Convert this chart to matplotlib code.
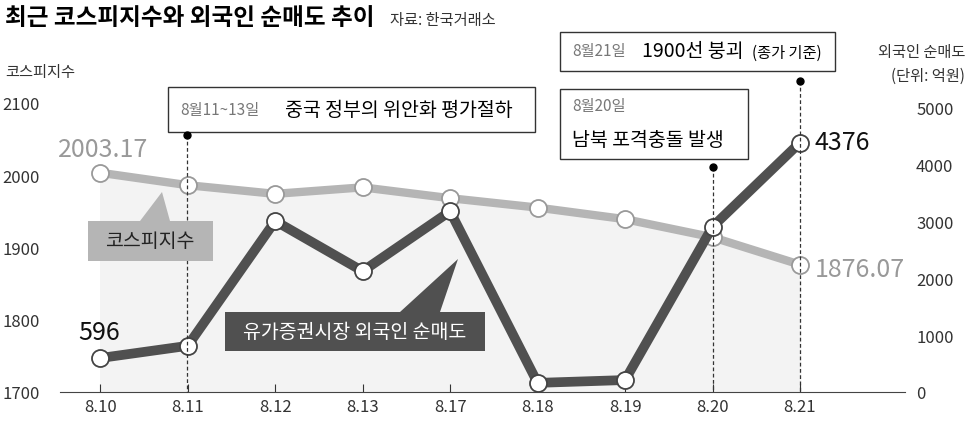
import matplotlib
matplotlib.use("Agg")
import matplotlib.pyplot as plt
from matplotlib.patches import Polygon

plt.rcParams["font.family"] = "Noto Sans CJK KR"

dates = ["8.10", "8.11", "8.12", "8.13", "8.17", "8.18", "8.19", "8.20", "8.21"]
kospi = [2003.17, 1986, 1974, 1983, 1968, 1955, 1939, 1914, 1876.07]
foreign = [596, 810, 3000, 2120, 3170, 160, 210, 2900, 4376]
left_ticks = [1700, 1800, 1900, 2000, 2100]
right_ticks = [0, 1000, 2000, 3000, 4000, 5000]

W, H = 970, 435
fig = plt.figure(figsize=(W / 100, H / 100), dpi=100)
ax = fig.add_axes([60 / W, (H - 393) / H, 845 / W, 303 / H])
ax2 = ax.twinx()
x = list(range(len(dates)))

ax.set_xlim(-0.46, 9.2)
ax.set_ylim(1700, 2119)
ax2.set_ylim(0, 5316)

KG = "#b5b5b5"
FG = "#505050"

ax.fill_between(x, kospi, 1700, color="#f3f3f3", zorder=0)
ax.plot(x, kospi, color=KG, lw=6, zorder=2, solid_capstyle="round")
ax.scatter(x, kospi, s=150, facecolor="white", edgecolor="#999999", lw=1.3, zorder=3)
ax2.plot(x, foreign, color=FG, lw=7, zorder=2)
ax2.scatter(x, foreign, s=150, facecolor="white", edgecolor="#444444", lw=1.3, zorder=3)

for a in (ax, ax2):
    for s in a.spines.values():
        s.set_visible(False)
ax.spines["bottom"].set_visible(True)
ax.spines["bottom"].set_color("#444444")
ax.set_xticks(x, dates)
ax.set_yticks(left_ticks)
ax2.set_yticks(right_ticks)
ax.tick_params(axis="x", length=6, direction="in", labelsize=12, colors="#333333", pad=4)
ax.tick_params(axis="y", length=0, labelsize=12, colors="#333333", pad=2)
ax2.tick_params(axis="y", length=0, labelsize=12, colors="#333333", pad=8)
for t in ax.get_yticklabels():
    t.set_ha("left")
    t.set_x(-0.065)

def fx(px):
    return px / W
def fy(py):
    return 1 - py / H

# dashed event lines with dot on top
for xi, ytop in [(1, 136), (7, 168), (8, 82)]:
    ybot = 393
    xp = 100 + 87.5 * xi
    fig.add_artist(plt.Line2D([fx(xp), fx(xp)], [fy(ytop), fy(ybot)], color="#333333", lw=0.9, ls=(0, (3, 2)), zorder=1))
    fig.add_artist(plt.Line2D([fx(xp)], [fy(ytop)], marker="o", ms=5, color="black"))

def box(x0, y0, x1, y1, fc="white", ec="#333333"):
    fig.add_artist(plt.Rectangle((fx(x0), fy(y1)), fx(x1 - x0), (y1 - y0) / H, fc=fc, ec=ec, lw=1))

box(168, 88, 535, 133)
fig.text(fx(180), fy(111), "8월11~13일", fontsize=11, color="#777777", va="center")
fig.text(fx(285), fy(110), "중국 정부의 위안화 평가절하", fontsize=14, va="center")
box(560, 90, 748, 160)
fig.text(fx(572), fy(106), "8월20일", fontsize=11, color="#777777", va="center")
fig.text(fx(572), fy(140), "남북 포격충돌 발생", fontsize=14, va="center")
box(560, 33, 835, 72)
fig.text(fx(572), fy(52), "8월21일", fontsize=11, color="#777777", va="center")
fig.text(fx(642), fy(52), "1900선 붕괴", fontsize=14, va="center")
fig.text(fx(752), fy(53), "(종가 기준)", fontsize=11, va="center")

# series label boxes with pointers
fig.add_artist(Polygon([(fx(140), fy(222)), (fx(170), fy(222)), (fx(162), fy(193))], closed=True, fc=KG, ec="none"))
box(88, 222, 213, 262, fc=KG, ec="none")
fig.text(fx(150), fy(242), "코스피지수", fontsize=14, ha="center", va="center", color="#222222")
fig.add_artist(Polygon([(fx(400), fy(313)), (fx(440), fy(313)), (fx(458), fy(260))], closed=True, fc=FG, ec="none"))
box(225, 313, 485, 352, fc=FG, ec="none")
fig.text(fx(355), fy(332), "유가증권시장 외국인 순매도", fontsize=14, ha="center", va="center", color="white")

# value labels
fig.text(fx(58), fy(150), "2003.17", fontsize=18, color="#999999", va="center")
fig.text(fx(815), fy(270), "1876.07", fontsize=18, color="#999999", va="center")
fig.text(fx(78), fy(333), "596", fontsize=18, color="#111111", va="center")
fig.text(fx(815), fy(143), "4376", fontsize=18, color="#111111", va="center")

# titles
fig.text(fx(5), fy(18), "최근 코스피지수와 외국인 순매도 추이", fontsize=17, fontweight="bold", va="center")
fig.text(fx(390), fy(20), "자료: 한국거래소", fontsize=11, va="center", color="#333333")
fig.text(fx(5), fy(72), "코스피지수", fontsize=11, va="center", color="#333333")
fig.text(fx(965), fy(53), "외국인 순매도", fontsize=11, va="center", ha="right", color="#333333")
fig.text(fx(965), fy(76), "(단위: 억원)", fontsize=11, va="center", ha="right", color="#333333")

fig.savefig("out.png", dpi=100)
